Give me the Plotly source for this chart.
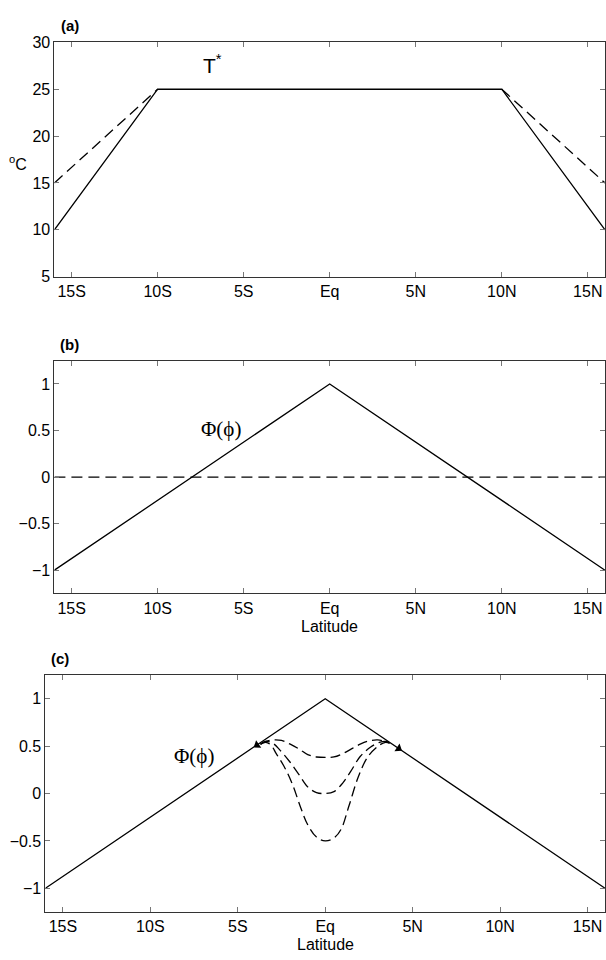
import plotly.graph_objects as go

# ---------------- data ----------------
tick_lat = [-15, -10, -5, 0, 5, 10, 15]
tick_lat_text = ["15S", "10S", "5S", "Eq", "5N", "10N", "15N"]

# panel (a): T* profiles
lat_a = [-16, -10, 10, 16]
t_solid = [10, 25, 25, 10]
lat_a_dash_s = [-16, -10]
t_dash_s = [15, 25]
lat_a_dash_n = [10, 16]
t_dash_n = [25, 15]
ticks_a = [5, 10, 15, 20, 25, 30]

# panel (b): Phi(phi)
lat_tri = [-16, 0, 16]
phi_tri = [-1, 1, -1]
lat_zero = [-16, 16]
phi_zero = [0, 0]
ticks_phi = [-1, -0.5, 0, 0.5, 1]
ticks_phi_text = ["\u22121", "\u22120.5", "0", "0.5", "1"]

# panel (c): modified Phi curves (dashed)
lat_c1 = [-3.7, -3.4, -3.0, -2.5, -2.0, -1.5, -1.0, -0.5, 0.0, 0.5, 1.0, 1.5, 2.0, 2.5, 3.0, 3.4, 3.7]
phi_c1 = [0.52, 0.55, 0.565, 0.56, 0.52, 0.47, 0.41, 0.385, 0.38, 0.385, 0.42, 0.47, 0.52, 0.555, 0.565, 0.55, 0.53]
lat_c2 = [-3.7, -3.4, -3.0, -2.6, -2.05, -1.5, -1.0, -0.5, 0.0, 0.5, 1.0, 1.45, 2.0, 2.6, 3.1, 3.45, 3.7]
phi_c2 = [0.52, 0.55, 0.53, 0.46, 0.34, 0.20, 0.07, 0.01, 0.0, 0.02, 0.11, 0.23, 0.39, 0.49, 0.54, 0.55, 0.53]
lat_c3 = [-3.7, -3.4, -3.1, -2.8, -2.35, -1.87, -1.4, -1.0, -0.5, 0.0, 0.5, 0.9, 1.36, 1.9, 2.45, 3.1, 3.45, 3.7]
phi_c3 = [0.52, 0.54, 0.51, 0.42, 0.285, 0.095, -0.15, -0.33, -0.46, -0.5, -0.47, -0.38, -0.13, 0.18, 0.39, 0.51, 0.54, 0.53]
wedge_lat = [-3.9, 4.2]
wedge_phi = [0.51, 0.475]

# ---------------- figure ----------------
W, H = 606, 960
fig = go.Figure()

solid = dict(color="black", width=1.3)
dashed = dict(color="black", width=1.3, dash="11px,6px")

fig.add_trace(go.Scatter(x=lat_a, y=t_solid, mode="lines", line=solid, xaxis="x", yaxis="y"))
fig.add_trace(go.Scatter(x=lat_a_dash_s, y=t_dash_s, mode="lines", line=dashed, xaxis="x", yaxis="y"))
fig.add_trace(go.Scatter(x=lat_a_dash_n, y=t_dash_n, mode="lines", line=dashed, xaxis="x", yaxis="y"))

fig.add_trace(go.Scatter(x=lat_tri, y=phi_tri, mode="lines", line=solid, xaxis="x2", yaxis="y2"))
fig.add_trace(go.Scatter(x=lat_zero, y=phi_zero, mode="lines", line=dashed, xaxis="x2", yaxis="y2"))

fig.add_trace(go.Scatter(x=lat_tri, y=phi_tri, mode="lines", line=solid, xaxis="x3", yaxis="y3"))
for lx, ly in [(lat_c1, phi_c1), (lat_c2, phi_c2), (lat_c3, phi_c3)]:
    fig.add_trace(go.Scatter(x=lx, y=ly, mode="lines", line=dict(color="black", width=1.3, dash="10px,5px"),
                             line_shape="spline", xaxis="x3", yaxis="y3"))
fig.add_trace(go.Scatter(x=wedge_lat, y=wedge_phi, mode="markers",
                         marker=dict(symbol=["triangle-left", "triangle-right"], size=8, color="black",
                                     angle=[-34, 34], line=dict(width=0)),
                         xaxis="x3", yaxis="y3"))

font_tick = dict(family="Liberation Sans, Arial, sans-serif", size=16, color="black")

def xax(domain, anchor):
    return dict(domain=domain, anchor=anchor, range=[-16, 16], tickvals=tick_lat, ticktext=tick_lat_text,
                ticks="inside", ticklen=5, tickcolor="#777", showline=True, linecolor="#333", linewidth=1,
                mirror="ticks", showgrid=False, zeroline=False, tickfont=font_tick)

def yax(domain, anchor, rng, tv, tt=None):
    d = dict(domain=domain, anchor=anchor, range=rng, tickvals=tv, ticks="inside", ticklen=5,
             tickcolor="#777", showline=True, linecolor="#333", linewidth=1, mirror="ticks",
             showgrid=False, zeroline=False, tickfont=font_tick)
    if tt is not None:
        d["ticktext"] = tt
    return d

dom_x_ab = [54.5 / W, 1.0]
dom_x_c = [45.5 / W, 1.0]
dom_a = [1 - 273.5 / H, 1 - 35 / H]
dom_b = [1 - 596 / H, 1 - 359 / H]
dom_c = [1 - 920.3 / H, 1 - 679 / H]

fig.update_layout(
    width=W, height=H, margin=dict(l=0, r=0, t=0, b=0),
    paper_bgcolor="white", plot_bgcolor="white", showlegend=False,
    xaxis=xax(dom_x_ab, "y"), yaxis=yax(dom_a, "x", [5, 30], ticks_a),
    xaxis2=xax(dom_x_ab, "y2"), yaxis2=yax(dom_b, "x2", [-1.25, 1.25], ticks_phi, ticks_phi_text),
    xaxis3=xax(dom_x_c, "y3"), yaxis3=yax(dom_c, "x3", [-1.25, 1.25], ticks_phi, ticks_phi_text),
)

ann_font = dict(family="Liberation Sans, Arial, sans-serif", size=16, color="black")
bold_font = dict(family="Liberation Sans, Arial, sans-serif", size=15, color="black")
serif = dict(family="Liberation Serif, Times New Roman, serif", size=21, color="black")

anns = [
    dict(text="<b>(a)</b>", x=59 / W, y=1 - 18.3 / H, xref="paper", yref="paper", xanchor="left", yanchor="middle", font=bold_font),
    dict(text="<b>(b)</b>", x=58 / W, y=1 - 342.3 / H, xref="paper", yref="paper", xanchor="left", yanchor="middle", font=bold_font),
    dict(text="<b>(c)</b>", x=49 / W, y=1 - 662 / H, xref="paper", yref="paper", xanchor="left", yanchor="middle", font=bold_font),
    dict(text="<sup>o</sup>C", x=18 / W, y=1 - 158 / H, xref="paper", yref="paper", xanchor="center", yanchor="middle", font=ann_font),
    dict(text="Latitude", x=330 / W, y=1 - 630 / H, xref="paper", yref="paper", xanchor="center", yanchor="middle", font=ann_font),
    dict(text="Latitude", x=326 / W, y=1 - 953 / H, xref="paper", yref="paper", xanchor="center", yanchor="middle", font=ann_font),
    dict(text="T<sup>*</sup>", x=-6.8, y=27.7, xref="x", yref="y", xanchor="center", yanchor="middle",
         font=dict(family="Liberation Sans, Arial, sans-serif", size=21, color="black")),
    dict(text="\u03a6(\u03d5)", x=-6.3, y=0.52, xref="x2", yref="y2", xanchor="center", yanchor="middle", font=serif),
    dict(text="\u03a6(\u03d5)", x=-7.5, y=0.40, xref="x3", yref="y3", xanchor="center", yanchor="middle", font=serif),
]
for a in anns:
    a["showarrow"] = False
fig.update_layout(annotations=anns)

fig.write_html("out.html")
